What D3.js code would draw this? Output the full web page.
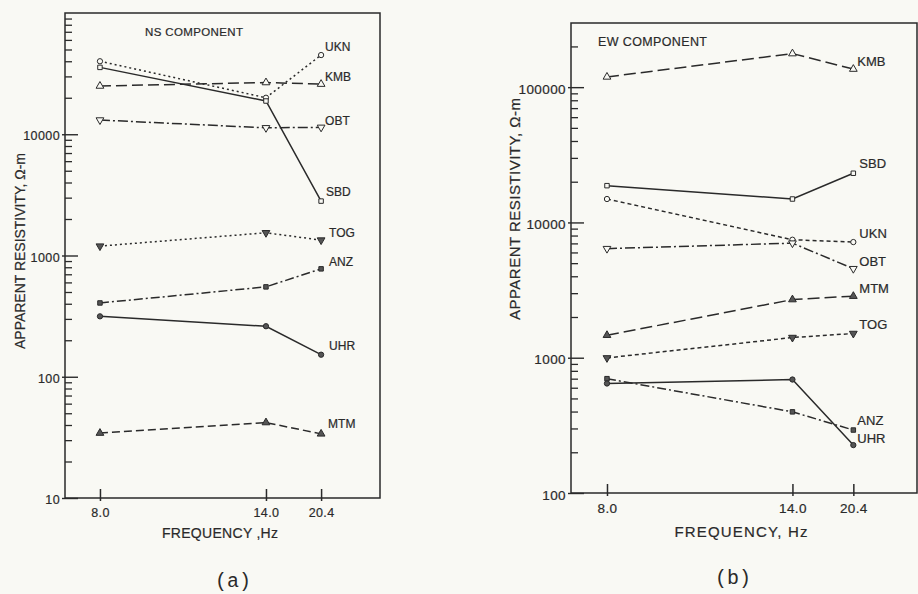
<!DOCTYPE html>
<html>
<head>
<meta charset="utf-8">
<script src="https://cdn.jsdelivr.net/npm/d3@7"></script>
<style>
  html, body { margin: 0; padding: 0; background: #f9f9f4; }
  svg { display: block; }
</style>
</head>
<body>
<svg id="chart" width="918" height="594"></svg>
<script>
// ---------------- DATA ----------------
const freqs = [8.0, 14.0, 20.4];
const freqTickLabels = ["8.0", "14.0", "20.4"];
const stations = ["UKN", "KMB", "SBD", "OBT", "TOG", "ANZ", "UHR", "MTM"];

// NS component, apparent resistivity (ohm-m) at 8.0, 14.0, 20.4 Hz
const nsUKN = [40000, 20000, 45000];
const nsKMB = [25000, 26700, 25900];
const nsSBD = [35600, 18800, 2810];
const nsOBT = [13100, 11300, 11400];
const nsTOG = [1195, 1540, 1340];
const nsANZ = [406, 551, 776];
const nsUHR = [315, 261, 152];
const nsMTM = [34.3, 41.9, 33.8];

// EW component
const ewUKN = [14900, 7450, 7160];
const ewKMB = [119000, 177000, 136000];
const ewSBD = [18700, 14900, 23100];
const ewOBT = [6400, 7030, 4550];
const ewTOG = [997, 1410, 1510];
const ewANZ = [700, 398, 292];
const ewUHR = [645, 690, 226];
const ewMTM = [1466, 2690, 2850];

const nsTickValues = [10, 100, 1000, 10000];
const nsTickLabels = ["10", "100", "1000", "10000"];
const ewTickValues = [100, 1000, 10000, 100000];
const ewTickLabels = ["100", "1000", "10000", "100000"];

const nsTitle = "NS  COMPONENT";
const ewTitle = "EW  COMPONENT";
const nsXTitle = "FREQUENCY ,Hz";
const ewXTitle = "FREQUENCY,  Hz";
const yTitle = "APPARENT  RESISTIVITY,  \u03A9-m";

// ---------------- STYLES ----------------
const ink = "#2a2a2a";
const styleNS = {
  UKN: {dash: "2,3",       sym: "circle",  fill: false, dy: -8,  dx: 4},
  KMB: {dash: "11,5",      sym: "tri",     fill: false, dy: -7,  dx: 4},
  SBD: {dash: null,        sym: "square",  fill: false, dy: -9,  dx: 5},
  OBT: {dash: "10,3,2,3",  sym: "itri",    fill: false, dy: -7,  dx: 4},
  TOG: {dash: "2,3",       sym: "itri",    fill: true,  dy: -7,  dx: 8},
  ANZ: {dash: "9,3,2,3",   sym: "square",  fill: true,  dy: -7,  dx: 8},
  UHR: {dash: null,        sym: "circle",  fill: true,  dy: -9,  dx: 8},
  MTM: {dash: "8,4",       sym: "tri",     fill: true,  dy: -10, dx: 7}
};
const styleEW = {
  UKN: {dash: "4,3",       sym: "circle",  fill: false, dy: -9,  dx: 6},
  KMB: {dash: "12,5",      sym: "tri",     fill: false, dy: -8,  dx: 4},
  SBD: {dash: null,        sym: "square",  fill: false, dy: -10, dx: 6},
  OBT: {dash: "10,3,2,3",  sym: "itri",    fill: false, dy: -7,  dx: 6},
  TOG: {dash: "4,3",       sym: "itri",    fill: true,  dy: -9,  dx: 6},
  ANZ: {dash: "9,3,2,3",   sym: "square",  fill: true,  dy: -10, dx: 4},
  UHR: {dash: null,        sym: "circle",  fill: true,  dy: -7,  dx: 4},
  MTM: {dash: "12,5",      sym: "tri",     fill: true,  dy: -8,  dx: 6}
};

const nsSeries = [
  {name: "UKN", values: nsUKN}, {name: "KMB", values: nsKMB},
  {name: "SBD", values: nsSBD}, {name: "OBT", values: nsOBT},
  {name: "TOG", values: nsTOG}, {name: "ANZ", values: nsANZ},
  {name: "UHR", values: nsUHR}, {name: "MTM", values: nsMTM}
];
const ewSeries = [
  {name: "UKN", values: ewUKN}, {name: "KMB", values: ewKMB},
  {name: "SBD", values: ewSBD}, {name: "OBT", values: ewOBT},
  {name: "TOG", values: ewTOG}, {name: "ANZ", values: ewANZ},
  {name: "UHR", values: ewUHR}, {name: "MTM", values: ewMTM}
];

const panels = [
  {
    x0: 65, x1: 380, yTop: 13, yBot: 498, domain: [10, 100000],
    xFrac: [0.111, 0.638, 0.813], series: nsSeries, style: styleNS,
    tickValues: nsTickValues, tickLabels: nsTickLabels,
    tickFont: 12.5, labelFont: 12, title: nsTitle, titleX: 145, titleY: 32, titleLen: 98, titleFont: 11.5,
    xTitle: nsXTitle, xTitleX: 220, xTitleY: 533, xTitleLen: 116, xTitleFont: 14,
    xLabelY: 513, yTitleX: 20, yTitleY: 251, yTitleLen: 196, yTitleFont: 14,
    tag: "(a)", tagX: 233, tagY: 580, border: true
  },
  {
    x0: 571, x1: 917, yTop: 23, yBot: 493, domain: [100, 298000],
    xFrac: [0.104, 0.640, 0.816], series: ewSeries, style: styleEW,
    tickValues: ewTickValues, tickLabels: ewTickLabels,
    tickFont: 13.5, labelFont: 13, title: ewTitle, titleX: 598, titleY: 42, titleLen: 109, titleFont: 12.5,
    xTitle: ewXTitle, xTitleX: 741, xTitleY: 532, xTitleLen: 133, xTitleFont: 15,
    xLabelY: 508, yTitleX: 515, yTitleY: 209, yTitleLen: 222, yTitleFont: 15,
    tag: "(b)", tagX: 733, tagY: 577, border: true
  }
];

// ---------------- DRAW ----------------
const svg = d3.select("#chart");
svg.append("rect").attr("width", 918).attr("height", 594).attr("fill", "#f9f9f4");

const font = "'Liberation Sans', Arial, Helvetica, sans-serif";

function symbolPath(kind) {
  if (kind === "circle") return d3.symbol().type(d3.symbolCircle).size(22)();
  if (kind === "square") return d3.symbol().type(d3.symbolSquare).size(20)();
  return d3.symbol().type(d3.symbolTriangle).size(26)();
}

function inkText(sel) {
  return sel.attr("fill", ink).attr("stroke", ink).attr("stroke-width", 0.2);
}

panels.forEach(p => {
  const g = svg.append("g");
  const w = p.x1 - p.x0;
  const x = d3.scaleLinear()
    .domain(freqs)
    .range(p.xFrac.map(f => p.x0 + f * w));
  const y = d3.scaleLog().domain(p.domain).range([p.yBot, p.yTop]);

  // Frame
  g.append("path")
    .attr("d", `M${p.x0},${p.yTop}H${p.x1}V${p.yBot}H${p.x0}Z`)
    .attr("fill", "none").attr("stroke", ink).attr("stroke-width", 1.5);

  // Minor y ticks
  const minor = [];
  const lo = Math.floor(Math.log10(p.domain[0])), hi = Math.ceil(Math.log10(p.domain[1]));
  for (let e = lo; e < hi; e++) {
    for (let k = 2; k <= 9; k++) {
      const v = k * Math.pow(10, e);
      if (v > p.domain[0] && v < p.domain[1] * 0.97) minor.push(v);
    }
  }
  const gMinor = g.append("g").attr("transform", `translate(${p.x0},0)`)
    .call(d3.axisRight(y).tickValues(minor).tickSize(7).tickFormat(""));
  gMinor.select(".domain").remove();
  gMinor.selectAll("line").attr("stroke", ink).attr("stroke-width", 1.3);

  // Major y ticks
  const gMajor = g.append("g").attr("transform", `translate(${p.x0},0)`)
    .call(d3.axisRight(y).tickValues(p.tickValues).tickSize(13).tickFormat(""));
  gMajor.select(".domain").remove();
  gMajor.selectAll("line").attr("x1", -3).attr("stroke", ink).attr("stroke-width", 1.4);

  // Y tick labels
  const gLab = g.append("g").attr("transform", `translate(${p.x0},0)`)
    .call(d3.axisLeft(y).tickValues(p.tickValues).tickSize(0).tickPadding(5)
      .tickFormat((d, i) => p.tickLabels[i]));
  gLab.select(".domain").remove();
  inkText(gLab.selectAll("text").attr("font-family", font).attr("font-size", p.tickFont)
    .attr("dy", "0.45em").attr("letter-spacing", 0.4));

  // X ticks
  const gX = g.append("g").attr("transform", `translate(0,${p.yBot})`)
    .call(d3.axisTop(x).tickValues(freqs).tickSize(9).tickFormat(""));
  gX.select(".domain").remove();
  gX.selectAll("line").attr("y1", 3).attr("stroke", ink).attr("stroke-width", 1.5);

  const gXL = g.append("g").attr("transform", `translate(0,${p.xLabelY})`)
    .call(d3.axisBottom(x).tickValues(freqs).tickSize(0).tickPadding(0)
      .tickFormat((d, i) => freqTickLabels[i]));
  gXL.select(".domain").remove();
  inkText(gXL.selectAll("text").attr("font-family", font).attr("font-size", p.tickFont)
    .attr("dy", "0.35em").attr("letter-spacing", 0.4));

  // Series
  const line = d3.line().x((d, i) => x(freqs[i])).y(d => y(d));
  p.series.forEach(s => {
    const st = p.style[s.name];
    g.append("path")
      .attr("d", line(s.values))
      .attr("fill", "none")
      .attr("stroke", ink)
      .attr("stroke-width", 1.5)
      .attr("stroke-dasharray", st.dash);
    s.values.forEach((v, i) => {
      g.append("path")
        .attr("d", symbolPath(st.sym))
        .attr("transform", `translate(${x(freqs[i])},${y(v)})` + (st.sym === "itri" ? " rotate(180)" : ""))
        .attr("fill", st.fill ? "#555" : "#f9f9f4")
        .attr("stroke", ink).attr("stroke-width", 1);
    });
    const last = s.values.length - 1;
    inkText(g.append("text")
      .attr("x", x(freqs[last]) + st.dx)
      .attr("y", y(s.values[last]) + st.dy)
      .attr("dy", "0.35em")
      .attr("font-family", font).attr("font-size", p.labelFont))
      .text(s.name);
  });

  // Title
  inkText(g.append("text")
    .attr("x", p.titleX).attr("y", p.titleY).attr("dy", "0.35em")
    .attr("font-family", font).attr("font-size", p.titleFont)
    .attr("textLength", p.titleLen).attr("lengthAdjust", "spacing"))
    .text(p.title);

  // X title
  inkText(g.append("text")
    .attr("x", p.xTitleX - p.xTitleLen / 2).attr("y", p.xTitleY).attr("dy", "0.35em")
    .attr("font-family", font).attr("font-size", p.xTitleFont)
    .attr("textLength", p.xTitleLen).attr("lengthAdjust", "spacing"))
    .text(p.xTitle);

  // Y title
  inkText(g.append("text")
    .attr("transform", `translate(${p.yTitleX},${p.yTitleY}) rotate(-90)`)
    .attr("x", -p.yTitleLen / 2).attr("y", 0).attr("dy", "0.35em")
    .attr("font-family", font).attr("font-size", p.yTitleFont)
    .attr("textLength", p.yTitleLen).attr("lengthAdjust", "spacing"))
    .text(yTitle);

  // Panel tag
  g.append("text")
    .attr("x", p.tagX).attr("y", p.tagY).attr("dy", "0.35em")
    .attr("text-anchor", "middle")
    .attr("font-family", "'Liberation Mono', 'DejaVu Sans Mono', monospace")
    .attr("font-size", 20).attr("fill", ink)
    .text(p.tag);
});
</script>
</body>
</html>
